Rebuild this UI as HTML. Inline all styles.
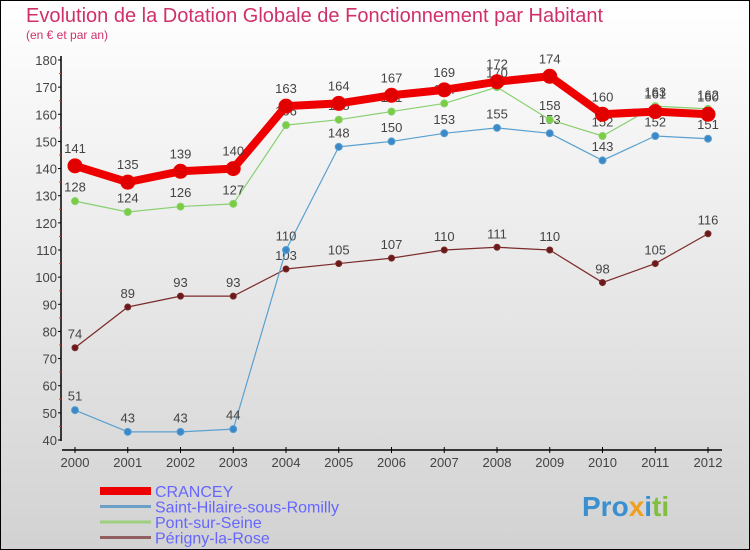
<!DOCTYPE html>
<html><head><meta charset="utf-8"><style>
body{margin:0}
#wrap{position:relative;width:750px;height:550px;box-sizing:border-box;border:1px solid #000;background:linear-gradient(#ffffff,#d2d2d2);font-family:"Liberation Sans","DejaVu Sans",sans-serif;overflow:hidden}
</style></head><body>
<div id="wrap">
<svg id="svg" width="750" height="550" style="position:absolute;left:-1px;top:-1px">
<text x="26" y="22" font-size="20" fill="#d0306a">Evolution de la Dotation Globale de Fonctionnement par Habitant</text>
<text x="26" y="39" font-size="12" fill="#d0306a">(en € et par an)</text>
<g id="axes"></g><g id="series"></g><g id="legend"></g>
<text x="582" y="516" font-size="28" font-weight="bold" fill="#3a8fd0">Pro<tspan fill="#f0a020">x</tspan><tspan fill="#3a8fd0">i</tspan><tspan fill="#80c040">ti</tspan></text>
</svg>
</div>
<script>
const years=[2000,2001,2002,2003,2004,2005,2006,2007,2008,2009,2010,2011,2012];
const crancey=[141,135,139,140,163,164,167,169,172,174,160,161,160];
const stHilaire=[51,43,43,44,110,148,150,153,155,153,143,152,151];
const pontSeine=[128,124,126,127,156,158,161,164,170,158,152,163,162];
const perigny=[74,89,93,93,103,105,107,110,111,110,98,105,116];
const yTicks=[40,50,60,70,80,90,100,110,120,130,140,150,160,170,180];
const NS="http://www.w3.org/2000/svg";
const X=i=>75+i*52.75, Y=v=>440-(v-40)*380/140;
function mk(p,t,a){const e=document.createElementNS(NS,t);for(const k in a)e.setAttribute(k,a[k]);p.appendChild(e);return e;}
const ax=document.getElementById('axes');
let l=mk(ax,'line',{x1:61,y1:56,x2:61,y2:441,stroke:'#000','stroke-width':1.5});

l=mk(ax,'line',{x1:62,y1:450,x2:722,y2:450,stroke:'#000','stroke-width':1.5});

yTicks.forEach(v=>{const y=Y(v);mk(ax,'line',{x1:58,x2:61,y1:y,y2:y,stroke:'#000'});
 if(v<180)mk(ax,'line',{x1:59,x2:61,y1:Y(v+5),y2:Y(v+5),stroke:'#e33'});
 const t=mk(ax,'text',{x:57,y:y+5,'font-size':13,fill:'#444','text-anchor':'end'});t.textContent=v;
 });
years.forEach((yr,i)=>{const x=X(i);mk(ax,'line',{x1:x,x2:x,y1:447,y2:453,stroke:'#000'});
 const t=mk(ax,'text',{x:x,y:467,'font-size':13,fill:'#444','text-anchor':'middle'});t.textContent=yr;
 });
const sg=document.getElementById('series');
function series(vals,color,w,r,name,fill){
 const g=mk(sg,'g',{});
 const pl=mk(g,'polyline',{points:vals.map((v,i)=>X(i)+','+Y(v)).join(' '),fill:'none',stroke:color,'stroke-width':w,'stroke-linejoin':'round'});
 
 vals.forEach((v,i)=>{const c=mk(g,'circle',{cx:X(i),cy:Y(v),r:r,fill:fill,stroke:color,'stroke-width':1});
  
  const t=mk(g,'text',{x:X(i),y:Y(v)-(r+6),'font-size':13,fill:'#444','text-anchor':'middle'});t.textContent=v;
  });
}
series(perigny,'#7a2a2a',1.2,3,'perigny-series','#6a1a1a');
series(stHilaire,'#5aa0d0',1.2,3.5,'st-hilaire-series','#3a88c8');
series(pontSeine,'#88d070',1.2,3.5,'pont-seine-series','#7acc40');
series(crancey,'#ee0000',8,7,'crancey-series','#e00000');
const lg=document.getElementById('legend');
[['CRANCEY','#ee0000',8],['Saint-Hilaire-sous-Romilly','#6aa0c8',3],['Pont-sur-Seine','#9ccf80',3],['Périgny-la-Rose','#906060',3]].forEach((d,i)=>{
 const y=491+i*15.5;
 const g=mk(lg,'g',{});
 mk(g,'line',{x1:100,x2:151,y1:y,y2:y,stroke:d[1],'stroke-width':d[2]});
 const t=mk(g,'text',{x:155,y:y+6,'font-size':16,fill:'#6666ff'});t.textContent=d[0];
});
</script>
</body></html>
